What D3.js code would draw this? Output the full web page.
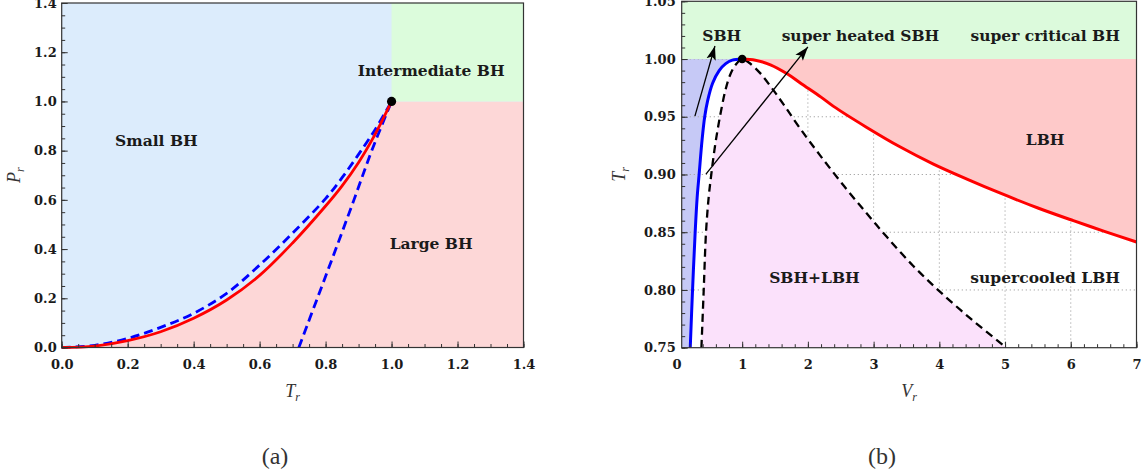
<!DOCTYPE html>
<html>
<head>
<meta charset="utf-8">
<script src="https://cdn.jsdelivr.net/npm/d3@7"></script>
<style>
  body { margin: 0; background: #fff; }
  svg { display: block; }
  .tick text { font-family: "DejaVu Serif", serif; font-weight: bold; font-size: 13px; fill: #1a1a1a; }
  .tick line { stroke: #333; stroke-width: 1; }
  .region { font-family: "DejaVu Serif", serif; font-weight: bold; font-size: 15.5px; fill: #1a1a1a; }
  .axis-title { font-family: "Liberation Serif", serif; font-style: italic; font-size: 18px; fill: #333; }
  .panel-tag { font-family: "Liberation Serif", serif; font-size: 24px; fill: #333; }
</style>
</head>
<body>
<svg id="chart" width="1146" height="475"></svg>
<script>
// ---------- panel (a): P_r against T_r ----------
var aTicks = [0, 0.2, 0.4, 0.6, 0.8, 1.0, 1.2, 1.4]

// coexistence line (red)
var aCoexT = [0, 0.1, 0.2, 0.3, 0.4, 0.5, 0.6, 0.7, 0.8, 0.85, 0.9, 0.95, 1.0]
var aCoexP = [0, 0.006, 0.028, 0.064, 0.119, 0.193, 0.293, 0.425, 0.575, 0.657, 0.752, 0.866, 1.0]

// spinodal, upper branch (blue dashed)
var aSpinUpT = [0, 0.1, 0.2, 0.3, 0.4, 0.5, 0.6, 0.7, 0.8, 0.85, 0.9, 0.95, 1.0]
var aSpinUpP = [0, 0.009, 0.037, 0.082, 0.139, 0.22, 0.335, 0.465, 0.605, 0.69, 0.785, 0.885, 1.0]

// spinodal, lower branch (blue dashed)
var aSpinLoT = [0.719, 0.775, 0.831, 0.886, 0.94, 1.0]
var aSpinLoP = [0, 0.2, 0.4, 0.6, 0.8, 1.0]

var aCritical = [1.0, 1.0]

var aLabelText = ["Small BH", "Intermediate BH", "Large BH"]
var aLabelT = [0.287, 1.12, 1.12]
var aLabelP = [0.82, 1.103, 0.40]

// ---------- panel (b): T_r against V_r ----------
var bXTicks = [0, 1, 2, 3, 4, 5, 6, 7]
var bYTicks = [0.75, 0.80, 0.85, 0.90, 0.95, 1.00, 1.05]

// coexistence, small BH side (blue)
var bBlueV = [0.21, 0.245, 0.285, 0.315, 0.345, 0.39, 0.43, 0.475, 0.55, 0.65, 0.75, 0.85, 1.0]
var bBlueT = [0.75, 0.80, 0.85, 0.88, 0.90, 0.93, 0.95, 0.964, 0.979, 0.990, 0.996, 0.999, 1.0]

// coexistence, large BH side (red)
var bRedV = [1.0, 1.2, 1.43, 1.69, 1.89, 2.2, 2.39, 2.89, 3.40, 3.91, 4.42, 4.92, 5.5, 6.04, 6.5, 7.0]
var bRedT = [1.0, 0.999, 0.995, 0.987, 0.979, 0.967, 0.959, 0.941, 0.924, 0.909, 0.896, 0.884, 0.871, 0.860, 0.851, 0.8415]

// spinodal (black dashed), left and right branch
var bSpinLV = [0.38, 0.415, 0.45, 0.49, 0.53, 0.58, 0.63, 0.685, 0.745, 0.815, 0.9, 1.0]
var bSpinLT = [0.75, 0.80, 0.85, 0.88, 0.90, 0.922, 0.94, 0.957, 0.973, 0.986, 0.995, 1.0]
var bSpinRV = [1.0, 1.1, 1.27, 1.45, 1.65, 1.88, 2.18, 2.55, 2.9, 3.2, 3.6, 4.0, 4.5, 5.02]
var bSpinRT = [1.0, 0.997, 0.988, 0.975, 0.959, 0.940, 0.917, 0.890, 0.866, 0.846, 0.821, 0.799, 0.774, 0.75]

var bCritical = [1.0, 1.0]

var bLabelText = ["SBH", "super heated SBH", "super critical BH", "LBH", "SBH+LBH", "supercooled LBH"]
var bLabelV = [0.69, 2.80, 5.61, 5.61, 2.10, 5.61]
var bLabelT = [1.0156, 1.0156, 1.0156, 0.9255, 0.8057, 0.8057]

var bArrowFrom = [[0.281, 0.9506], [0.449, 0.9004]]
var bArrowTo = [[0.586, 1.0113], [2.0, 1.0105]]

var zip = (xs, ys) => xs.map((x, i) => [x, ys[i]])

var svg = d3.select('#chart')

var defs = svg.append('defs')
defs.append('marker')
  .attr('id', 'head')
  .attr('markerUnits', 'userSpaceOnUse')
  .attr('markerWidth', 16).attr('markerHeight', 12)
  .attr('viewBox', '0 -6 16 12')
  .attr('refX', 14).attr('refY', 0)
  .attr('orient', 'auto')
  .append('path')
  .attr('d', 'M0,-4.8L14,0L0,4.8L3,0Z')
  .attr('fill', '#000')

// inside ticks, major with labels + minor without
function ticks(g, axisFn, scale, major, minor, fmt, pad){
  var dom = scale.domain()
  var inDom = v => v >= Math.min(...dom) - 1e-9 && v <= Math.max(...dom) + 1e-9
  g.append('g')
    .call(axisFn(scale).tickValues(minor.filter(inDom)).tickSize(-3.5).tickFormat(''))
    .call(s => s.select('.domain').remove())
  g.append('g')
    .call(axisFn(scale).tickValues(major).tickSize(-6).tickPadding(pad).tickFormat(fmt))
    .call(s => s.select('.domain').remove())
    .call(s => s.selectAll('.tick').filter(d => !inDom(d)).select('line').remove())
}

function range(a, b, step){
  var out = []
  for (var i = 0; a + i * step <= b + 1e-9; i++) out.push(+(a + i * step).toFixed(4))
  return out
}

var smooth = d3.curveCatmullRom.alpha(0.5)

// ================= panel (a) =================
var ax = d3.scaleLinear().domain([0, 1.4]).range([61.7, 523.5])
var ay = d3.scaleLinear().domain([0, 1.4]).range([347.5, 3])
var aLine = d3.line().x(d => ax(d[0])).y(d => ay(d[1])).curve(smooth)

var ga = svg.append('g')

ga.append('rect')
  .attr('x', ax(0)).attr('y', ay(1.4))
  .attr('width', ax(1.4) - ax(0)).attr('height', ay(0) - ay(1.4))
  .attr('fill', '#dcecfc')

ga.append('path')
  .attr('d', aLine(zip(aCoexT, aCoexP)) + `L${ax(1.4)},${ay(1)}L${ax(1.4)},${ay(0)}Z`)
  .attr('fill', '#fdd7d7')

ga.append('rect')
  .attr('x', ax(1)).attr('y', ay(1.4))
  .attr('width', ax(1.4) - ax(1)).attr('height', ay(1) - ay(1.4))
  .attr('fill', '#dcfcdc')

ga.append('path')
  .attr('d', aLine(zip(aSpinUpT, aSpinUpP)))
  .attr('fill', 'none').attr('stroke', '#0000ff').attr('stroke-width', 2.8)
  .attr('stroke-dasharray', '9,5')

ga.append('path')
  .attr('d', aLine(zip(aSpinLoT, aSpinLoP)))
  .attr('fill', 'none').attr('stroke', '#0000ff').attr('stroke-width', 2.8)
  .attr('stroke-dasharray', '9,5')

ga.append('path')
  .attr('d', aLine(zip(aCoexT, aCoexP)))
  .attr('fill', 'none').attr('stroke', '#ff0000').attr('stroke-width', 2.8)

ga.append('circle')
  .attr('cx', ax(aCritical[0])).attr('cy', ay(aCritical[1])).attr('r', 4.6)
  .attr('fill', '#000')

ga.selectAll('.region').data(aLabelText).enter()
  .append('text')
  .attr('class', 'region')
  .attr('text-anchor', 'middle')
  .attr('x', (d, i) => ax(aLabelT[i]))
  .attr('y', (d, i) => ay(aLabelP[i]))
  .text(d => d)

ga.append('rect')
  .attr('x', ax(0)).attr('y', ay(1.4))
  .attr('width', ax(1.4) - ax(0)).attr('height', ay(0) - ay(1.4))
  .attr('fill', 'none').attr('stroke', '#333').attr('stroke-width', 1.2)

var axA = ga.append('g').attr('transform', `translate(0,${ay(0)})`)
ticks(axA, d3.axisBottom, ax, aTicks, range(0, 1.4, 0.05), d3.format('.1f'), 12)
var ayA = ga.append('g').attr('transform', `translate(${ax(0)},0)`)
ticks(ayA, d3.axisLeft, ay, aTicks, range(0, 1.4, 0.05), d3.format('.1f'), 5)

ga.append('text').attr('class', 'axis-title')
  .attr('text-anchor', 'middle')
  .attr('x', (ax(0) + ax(1.4)) / 2).attr('y', 397)
  .text('T').append('tspan').attr('dy', 4).attr('font-size', 12).text('r')

ga.append('text').attr('class', 'axis-title')
  .attr('text-anchor', 'middle')
  .attr('transform', `translate(20,${(ay(0) + ay(1.4)) / 2}) rotate(-90)`)
  .text('P').append('tspan').attr('dy', 4).attr('font-size', 12).text('r')

ga.append('text').attr('class', 'panel-tag')
  .attr('text-anchor', 'middle')
  .attr('x', 275).attr('y', 464)
  .text('(a)')

// ================= panel (b) =================
var bx = d3.scaleLinear().domain([0.08, 7]).range([681.7, 1136.5])
var by = d3.scaleLinear().domain([0.75, 1.05]).range([347.7, 1.3])
var bLine = d3.line().x(d => bx(d[0])).y(d => by(d[1])).curve(smooth)

var gb = svg.append('g')

defs.append('clipPath').attr('id', 'clipB')
  .append('rect')
  .attr('x', bx(0.08)).attr('y', by(1.05))
  .attr('width', bx(7) - bx(0.08)).attr('height', by(0.75) - by(1.05))

var plotB = gb.append('g').attr('clip-path', 'url(#clipB)')

// small BH region
plotB.append('path')
  .attr('d', `M${bx(0.08)},${by(0.75)}L${bx(0.08)},${by(1)}L${bx(1)},${by(1)}` +
    bLine(zip(bBlueV, bBlueT).reverse()).replace(/^M/, 'L') + 'Z')
  .attr('fill', '#c6c9f6')

// grid
var gridV = [1, 2, 3, 4, 5, 6]
var gridT = [0.80, 0.85, 0.90, 0.95, 1.00]
plotB.selectAll('.gv').data(gridV).enter().append('line')
  .attr('x1', d => bx(d)).attr('x2', d => bx(d))
  .attr('y1', by(0.75)).attr('y2', by(1.05))
  .attr('stroke', '#aaa').attr('stroke-width', 1).attr('stroke-dasharray', '1.3,2.7')
plotB.selectAll('.gh').data(gridT).enter().append('line')
  .attr('x1', bx(0.08)).attr('x2', bx(7))
  .attr('y1', d => by(d)).attr('y2', d => by(d))
  .attr('stroke', '#aaa').attr('stroke-width', 1).attr('stroke-dasharray', '1.3,2.7')

// unstable (SBH+LBH) region under the spinodal
var spin = zip(bSpinLV, bSpinLT).concat(zip(bSpinRV, bSpinRT).slice(1))
plotB.append('path')
  .attr('d', bLine(spin) + 'Z')
  .attr('fill', '#fbe1fb')

// large BH region
plotB.append('path')
  .attr('d', bLine(zip(bRedV, bRedT)) + `L${bx(7)},${by(1)}Z`)
  .attr('fill', '#fec9c9')

// super critical band
plotB.append('rect')
  .attr('x', bx(0.08)).attr('y', by(1.05))
  .attr('width', bx(7) - bx(0.08)).attr('height', by(1) - by(1.05))
  .attr('fill', '#dcfadc')

plotB.append('path')
  .attr('d', bLine(spin))
  .attr('fill', 'none').attr('stroke', '#000').attr('stroke-width', 2.3)
  .attr('stroke-dasharray', '8,5')

plotB.append('path')
  .attr('d', bLine(zip(bBlueV, bBlueT)))
  .attr('fill', 'none').attr('stroke', '#0000ff').attr('stroke-width', 3)

plotB.append('path')
  .attr('d', bLine(zip(bRedV, bRedT)))
  .attr('fill', 'none').attr('stroke', '#ff0000').attr('stroke-width', 3)

plotB.append('circle')
  .attr('cx', bx(bCritical[0])).attr('cy', by(bCritical[1])).attr('r', 4.3)
  .attr('fill', '#000')

gb.selectAll('.arrow').data(bArrowFrom).enter().append('line')
  .attr('x1', d => bx(d[0])).attr('y1', d => by(d[1]))
  .attr('x2', (d, i) => bx(bArrowTo[i][0])).attr('y2', (d, i) => by(bArrowTo[i][1]))
  .attr('stroke', '#000').attr('stroke-width', 1.3)
  .attr('marker-end', 'url(#head)')

gb.selectAll('.region').data(bLabelText).enter()
  .append('text')
  .attr('class', 'region')
  .attr('text-anchor', 'middle')
  .attr('x', (d, i) => bx(bLabelV[i]))
  .attr('y', (d, i) => by(bLabelT[i]))
  .text(d => d)

gb.append('rect')
  .attr('x', bx(0.08)).attr('y', by(1.05))
  .attr('width', bx(7) - bx(0.08)).attr('height', by(0.75) - by(1.05))
  .attr('fill', 'none').attr('stroke', '#333').attr('stroke-width', 1.2)

var axB = gb.append('g').attr('transform', `translate(0,${by(0.75)})`)
ticks(axB, d3.axisBottom, bx, bXTicks, range(0, 7, 0.2), d3.format('d'), 12)
var ayB = gb.append('g').attr('transform', `translate(${bx(0.08)},0)`)
ticks(ayB, d3.axisLeft, by, bYTicks, range(0.75, 1.05, 0.01), d3.format('.2f'), 6)

gb.append('text').attr('class', 'axis-title')
  .attr('text-anchor', 'middle')
  .attr('x', (bx(0.08) + bx(7)) / 2).attr('y', 397)
  .text('V').append('tspan').attr('dy', 4).attr('font-size', 12).text('r')

gb.append('text').attr('class', 'axis-title')
  .attr('text-anchor', 'middle')
  .attr('transform', `translate(625,${(by(0.75) + by(1.05)) / 2}) rotate(-90)`)
  .text('T').append('tspan').attr('dy', 4).attr('font-size', 12).text('r')

gb.append('text').attr('class', 'panel-tag')
  .attr('text-anchor', 'middle')
  .attr('x', 882).attr('y', 464)
  .text('(b)')
</script>
</body>
</html>
